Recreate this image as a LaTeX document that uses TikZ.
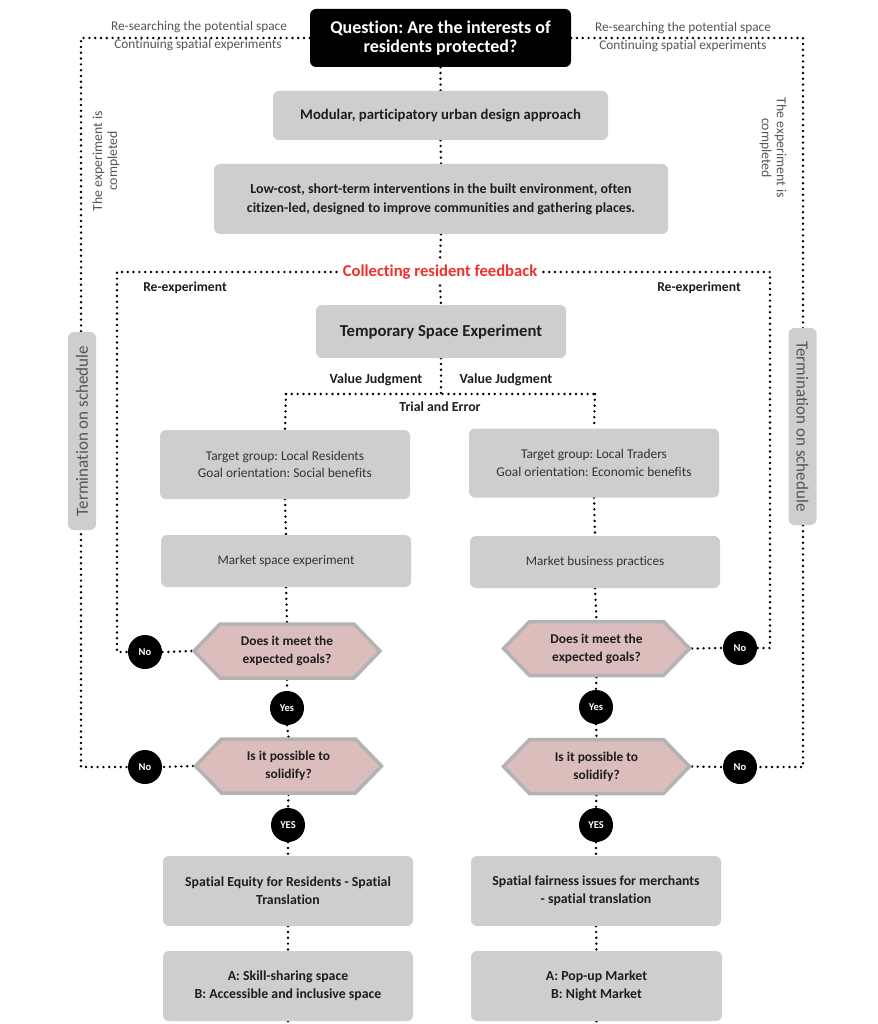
\documentclass[tikz,border=0pt]{standalone}
\usepackage{fontspec}
\setmainfont{Carlito}[Ligatures=NoCommon]
\usetikzlibrary{shapes.symbols,backgrounds}
\definecolor{boxgray}{HTML}{CECECE}
\definecolor{hexpink}{HTML}{DBBDBC}
\definecolor{hexline}{HTML}{B3B3B3}
\definecolor{fbred}{HTML}{F0302A}
\definecolor{darktext}{HTML}{1E1E1E}
\definecolor{softtext}{HTML}{333333}
\definecolor{greytext}{HTML}{555555}
\newcommand\myfs[2]{\fontsize{#1}{#2}\selectfont}
\frenchspacing
\tikzset{
  dots/.style={line width=2.7pt, line cap=round, dash pattern=on 0pt off 5.8pt, draw=black},
  gbox/.style={fill=boxgray, rounded corners=6pt, align=center, text=darktext, inner sep=2pt},
  qbox/.style={fill=black, rounded corners=6pt, align=center, text=white, minimum width=261pt, minimum height=58pt, font=\bfseries\myfs{18}{19}},
  hexbox/.style={signal, signal to=west and east, signal pointer angle=92, fill=hexpink, draw=hexline, line width=3.5pt, minimum width=186pt, minimum height=54pt, align=center, text=darktext, font=\bfseries\myfs{13.4}{18}, inner sep=1pt},
  circ/.style={circle, fill=black, minimum size=34pt, inner sep=0pt, text=white, font=\bfseries\myfs{10.5}{12}},
  lbl/.style={text=darktext, font=\bfseries\myfs{14}{16}},
  side/.style={text=greytext, align=center, font=\myfs{13.3}{15}},
}
\begin{document}
\begin{tikzpicture}[x=1pt,y=-1pt]
\useasboundingbox (0,0) rectangle (877,1024);

% top
\node[qbox] (q) at (440.5,38) {Question: Are the interests of\\residents protected?};
\node[gbox, minimum width=335pt, minimum height=49pt, font=\bfseries\myfs{14.7}{18}] (mod) at (440.5,115.5) {Modular, participatory urban design approach};
\node[gbox, minimum width=454pt, minimum height=70pt, font=\bfseries\myfs{13.9}{19}] (low) at (441,199) {Low-cost, short-term interventions in the built environment, often\\citizen-led, designed to improve communities and gathering places.};
\node[text=fbred, inner sep=6pt, font=\bfseries\myfs{16.6}{18}] (fb) at (440,272) {Collecting resident feedback};
\node[lbl, font=\bfseries\myfs{13.6}{16}] (reL) at (185,288) {Re-experiment};
\node[lbl, font=\bfseries\myfs{13.6}{16}] (reR) at (699,288) {Re-experiment};
\node[gbox, minimum width=250pt, minimum height=53pt, font=\bfseries\myfs{16.7}{19}] (temp) at (441,331.5) {Temporary Space Experiment};
\node[lbl] (vjL) at (376,380) {Value Judgment};
\node[lbl] (vjR) at (506,380) {Value Judgment};
\node[lbl, font=\bfseries\myfs{13.8}{15}] (te) at (440,407) {Trial and Error};

% side labels
\node[side] (rsL) at (199,27) {Re-searching the potential space};
\node[side] (csL) at (198,45) {Continuing spatial experiments};
\node[side] (rsR) at (683,28) {Re-searching the potential space};
\node[side] (csR) at (683,46) {Continuing spatial experiments};
\node[side, rotate=90, font=\myfs{13.8}{15}] (ecL) at (106,161) {The experiment is\\completed};
\node[side, rotate=-90, font=\myfs{13.8}{15}] (ecR) at (773,148) {The experiment is\\completed};
\node[gbox, rotate=90, minimum width=198pt, minimum height=28pt, text=greytext, font=\myfs{17}{18}] (tmL) at (82,431) {Termination on schedule};
\node[gbox, rotate=-90, minimum width=197pt, minimum height=28pt, text=greytext, font=\myfs{17}{18}] (tmR) at (802.5,426.5) {Termination on schedule};

% branches
\node[gbox, minimum width=250pt, minimum height=69pt, text=softtext, font=\myfs{13.4}{17.5}] (tL) at (285,464.5) {Target group: Local Residents\\Goal orientation: Social benefits};
\node[gbox, minimum width=250pt, minimum height=69pt, text=softtext, font=\myfs{13.4}{17.5}] (tR) at (594,463) {Target group: Local Traders\\Goal orientation: Economic benefits};
\node[gbox, minimum width=250pt, minimum height=52pt, text=softtext, font=\myfs{13.2}{16}] (mL) at (286,561) {Market space experiment};
\node[gbox, minimum width=250pt, minimum height=52pt, text=softtext, font=\myfs{13.2}{16}] (mR) at (595,562) {Market business practices};

\node[hexbox] (hL1) at (287,651) {Does it meet the\\expected goals?};
\node[hexbox] (hR1) at (596.5,648.5) {Does it meet the\\expected goals?};
\node[hexbox] (hL2) at (288.5,766) {Is it possible to\\solidify?};
\node[hexbox] (hR2) at (596.5,766.5) {Is it possible to\\solidify?};

\node[circ] (noL1) at (145,652) {No};
\node[circ] (noR1) at (740,648) {No};
\node[circ] (yL) at (287,708) {Yes};
\node[circ] (yR) at (596,707) {Yes};
\node[circ] (noL2) at (145,767) {No};
\node[circ] (noR2) at (740,767) {No};
\node[circ] (YL) at (288,825) {YES};
\node[circ] (YR) at (596,825) {YES};

\node[gbox, minimum width=250pt, minimum height=70pt, font=\bfseries\myfs{13.8}{18}] (sL) at (288,891) {Spatial Equity for Residents - Spatial\\Translation};
\node[gbox, minimum width=250pt, minimum height=70pt, font=\bfseries\myfs{13.8}{18}] (sR) at (596,891) {Spatial fairness issues for merchants\\- spatial translation};
\node[gbox, minimum width=250pt, minimum height=70pt, font=\bfseries\myfs{13.8}{18}] (aL) at (288,986) {A: Skill-sharing space\\B: Accessible and inclusive space};
\node[gbox, minimum width=251pt, minimum height=70pt, font=\bfseries\myfs{13.8}{18}] (aR) at (596.5,986) {A: Pop-up Market\\B: Night Market};

% coordinates
\coordinate (TL) at (81,38);
\coordinate (BL) at (81,767);
\coordinate (TR) at (803,38);
\coordinate (BR) at (803,767);
\coordinate (IL) at (117,272);
\coordinate (ILb) at (117,652);
\coordinate (IR) at (770,272);
\coordinate (IRb) at (770,648);
\coordinate (J) at (441,394);
\coordinate (JL) at (286,394);
\coordinate (JR) at (595,394);
\coordinate (endL) at (288,1024);
\coordinate (endR) at (596,1024);

\begin{pgfonlayer}{background}
\fill[white] (0,0) rectangle (877,1024);
\draw[dots] (q.west) -- (TL) -- (BL) -- (noL2.west);
\draw[dots] (q.east) -- (TR) -- (BR) -- (noR2.east);
\draw[dots] (q.south) -- (mod.north);
\draw[dots] (mod.south) -- (low.north);
\draw[dots] (low.south) -- (fb.north);
\draw[dots] (fb.south) -- (temp.north);
\draw[dots] (fb.west) -- (IL) -- (ILb) -- (noL1.west);
\draw[dots] (fb.east) -- (IR) -- (IRb) -- (noR1.east);
\draw[dots] (temp.south) -- (J);
\draw[dots] (JL) -- (JR);
\draw[dots] (JL) -- (tL.north);
\draw[dots] (JR) -- (tR.north);
\draw[dots] (tL.south) -- (mL.north);
\draw[dots] (mL.south) -- (hL1.north);
\draw[dots] (hL1.south) -- (yL.north);
\draw[dots] (yL.south) -- (hL2.north);
\draw[dots] (hL2.south) -- (YL.north);
\draw[dots] (YL.south) -- (sL.north);
\draw[dots] (sL.south) -- (aL.north);
\draw[dots] (aL.south) -- (endL);
\draw[dots] (tR.south) -- (mR.north);
\draw[dots] (mR.south) -- (hR1.north);
\draw[dots] (hR1.south) -- (yR.north);
\draw[dots] (yR.south) -- (hR2.north);
\draw[dots] (hR2.south) -- (YR.north);
\draw[dots] (YR.south) -- (sR.north);
\draw[dots] (sR.south) -- (aR.north);
\draw[dots] (aR.south) -- (endR);
\draw[dots] (hL1.west) -- (noL1.east);
\draw[dots] (hL2.west) -- (noL2.east);
\draw[dots] (hR1.east) -- (noR1.west);
\draw[dots] (hR2.east) -- (noR2.west);
\end{pgfonlayer}
\end{tikzpicture}
\end{document}
